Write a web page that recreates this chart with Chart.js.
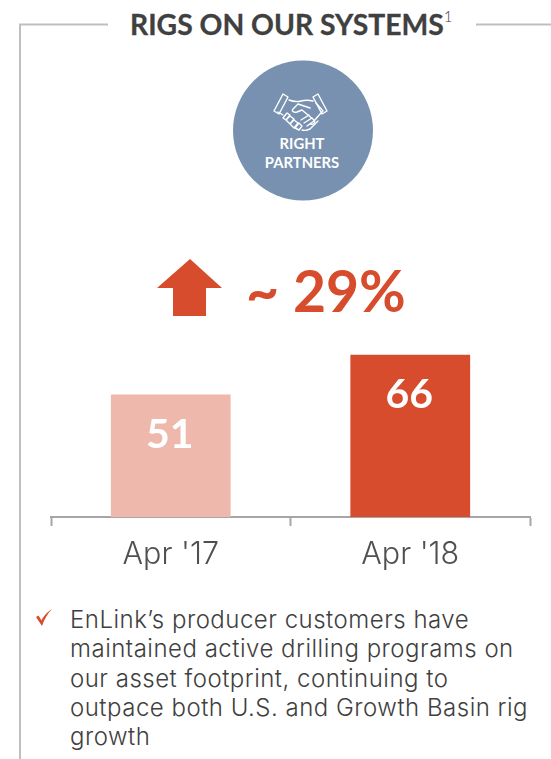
<!DOCTYPE html>
<html>
<head>
<meta charset="utf-8">
<title>Rigs on our systems</title>
<script src="https://cdn.jsdelivr.net/npm/chart.js@4/dist/chart.umd.min.js"></script>
<style>
  html, body { margin: 0; padding: 0; background: #fff; }
  body { position: relative; width: 551px; height: 759px; overflow: hidden; font-family: Lato, sans-serif; }
  .abs { position: absolute; white-space: nowrap; }
  #art { position: absolute; left: 0; top: 0; }
  #chartBox { position: absolute; left: 0; top: 344px; width: 551px; height: 233px; }
  .title { left: 130px; top: 6px; font-size: 28.3px; line-height: 36px; font-weight: 700; color: #404040; -webkit-text-stroke: 0.3px #404040; }
  .title sup { font-size: 15px; font-weight: 300; line-height: 0; position: relative; top: -3px; vertical-align: super; margin-left: 0; -webkit-text-stroke: 0; }
  .badge { left: 232px; width: 140px; text-align: center; color: #fff; font-weight: 700; font-size: 14.8px; line-height: 19px; }
  .growth { left: 246px; top: 256px; font-size: 57px; line-height: 68px; font-weight: 700; color: #D64C2D; }
  .note { left: 70px; top: 605px; font-family: Inter, sans-serif; font-weight: 300; font-size: 24px; letter-spacing: 0.5px; line-height: 29.3px; color: #404040; }
</style>
</head>
<body>
<svg id="art" width="551" height="759">
  <!-- bracket frame -->
  <path d="M108 24.5H20V759M476 24.5H551" fill="none" stroke="#BFBFBF" stroke-width="2"/>
  <circle cx="303" cy="130.5" r="70" fill="#7891B0"/>
  <!-- handshake icon -->
  <g fill="none" stroke="#fff" stroke-width="1.4" stroke-linejoin="round" stroke-linecap="round">
    <path d="M283 94l5 3-9 17-5-3z"/>
    <path d="M318 94l-5 3 9 17 5-3z"/>
    <path d="M289 100c5 2 8 2 12 1 4-1 8-1 12 0"/>
    <path d="M316 103l7 8-3 3-6 7"/>
    <path d="M310 108l-12-4-5 5c-2 2 1 4 4 3l5-2 12 10c2 3-1 5-4 4"/>
    <path d="M278 112l5 3"/>
    <path d="M287 113l-4 5 3 2 4-5zM286 120l4 4 4-5-4-3zM290 124l4 4 4-5-4-3zM295 128l4 2 3-4-3-3z"/>
    <path d="M302 130c3 1 6 0 8-1l8-8"/>
    <path d="M304 123l8-5M307 126l7-5M301 120l8-5"/>
  </g>
  <!-- growth arrow -->
  <path d="M190 259L222 288H206V316H173V288H157Z" fill="#D64C2D"/>
  <!-- check mark -->
  <path d="M36 617L42 626C44 620 47 614 52 609C46 613 43 617 41.5 620.5L38.5 615.5Z" fill="#D64C2D"/>
</svg>

<div class="abs title">RIGS ON OUR SYSTEMS<sup>1</sup></div>
<div class="abs badge" style="top:134px">RIGHT</div>
<div class="abs badge" style="top:153px">PARTNERS</div>
<div class="abs growth">~ 29%</div>

<div id="chartBox"><canvas id="rigsChart"></canvas></div>

<div class="abs note">EnLink’s producer customers have<br>maintained active drilling programs on<br>our asset footprint, continuing to<br>outpace both U.S. and Growth Basin rig<br>growth</div>

<script>
const categories = ["Apr '17", "Apr '18"];
const rigCounts = [51, 66];
const barColors = ["#EFB8AC", "#D64C2D"];

// white value inside the top of each bar
const barValues = {
  id: "barValues",
  afterDatasetsDraw(chart) {
    const ctx = chart.ctx;
    ctx.save();
    ctx.font = "700 41px Lato";
    ctx.fillStyle = "#fff";
    ctx.textAlign = "center";
    ctx.textBaseline = "middle";
    chart.getDatasetMeta(0).data.forEach((bar, i) => {
      ctx.fillText(rigCounts[i], bar.x - 1, bar.y + 40);
    });
    ctx.restore();
  },
};

new Chart(document.getElementById("rigsChart"), {
  type: "bar",
  data: {
    labels: categories,
    datasets: [
      {
        data: rigCounts,
        backgroundColor: barColors,
        barPercentage: 1,
        categoryPercentage: 0.5,
      },
    ],
  },
  options: {
    responsive: true,
    maintainAspectRatio: false,
    animation: { duration: 0 },
    layout: { padding: { left: 51, right: 21, top: 0, bottom: 0 } },
    plugins: {
      legend: { display: false },
      tooltip: { enabled: false },
    },
    scales: {
      x: {
        afterFit: (scale) => {
          scale.height = 60;
        },
        border: { color: "#A6A6A6", width: 2 },
        grid: {
          drawOnChartArea: false,
          color: "#A6A6A6",
          tickColor: "#A6A6A6",
          tickWidth: 2,
          tickLength: 9,
        },
        ticks: {
          color: "#505050",
          font: { family: "Inter", size: 30.5, weight: 300 },
          padding: 11,
        },
      },
      y: {
        display: false,
        min: 5,
        max: 70,
      },
    },
  },
  plugins: [barValues],
});
</script>
</body>
</html>
